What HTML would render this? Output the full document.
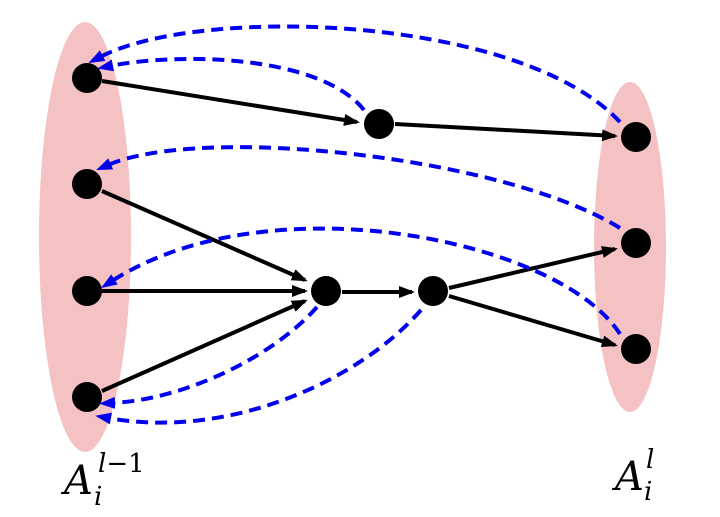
<!DOCTYPE html>
<html><head><style>body{margin:0;background:#fff}svg{display:block}</style></head><body>
<svg width="720" height="517" viewBox="0 0 720 517" xmlns="http://www.w3.org/2000/svg">
<defs>
<marker id="k" markerWidth="16" markerHeight="12" refX="13" refY="6" orient="auto" markerUnits="userSpaceOnUse"><path d="M0,0 L16,6 L0,12 z" fill="#000"/></marker>
<marker id="b" markerWidth="16" markerHeight="12" refX="3" refY="6" orient="auto" markerUnits="userSpaceOnUse"><path d="M0,0 L16,6 L0,12 z" fill="#0000ee"/></marker>
</defs>
<ellipse cx="85" cy="237" rx="46" ry="215" fill="#f4c2c2"/>
<ellipse cx="630" cy="247" rx="36" ry="165" fill="#f4c2c2"/>
<g stroke="#000" stroke-width="4" fill="none" marker-end="url(#k)">
<line x1="102" y1="81" x2="357" y2="122"/>
<line x1="395" y1="124" x2="615" y2="136"/>
<line x1="102" y1="191" x2="305" y2="280"/>
<line x1="102" y1="291" x2="305" y2="291"/>
<line x1="102" y1="391" x2="305" y2="301"/>
<line x1="342" y1="292" x2="412" y2="292"/>
<line x1="449" y1="288" x2="615" y2="249"/>
<line x1="449" y1="296" x2="615" y2="345"/>
</g>
<g stroke="#0000ee" stroke-width="4" fill="none" stroke-dasharray="12,7" marker-end="url(#b)">
<path d="M620,122 C520,15 200,5 100,57"/>
<path d="M364,110 C320,55 180,52 110,66"/>
<path d="M620,228 C500,155 200,125 108,165"/>
<path d="M620,334 C560,240 270,180 112,281"/>
<path d="M317,307 C270,360 180,400 112,403"/>
<path d="M421,310 C360,380 230,440 108,418"/>
</g>
<g fill="#000">
<circle cx="87" cy="78" r="15"/><circle cx="87" cy="184" r="15"/><circle cx="87" cy="291" r="15"/><circle cx="87" cy="397" r="15"/>
<circle cx="379" cy="124" r="15"/><circle cx="326" cy="291" r="15"/><circle cx="433" cy="291" r="15"/>
<circle cx="636" cy="137" r="15"/><circle cx="636" cy="243" r="15"/><circle cx="636" cy="349" r="15"/>
</g>
<g font-family="'DejaVu Serif', 'Liberation Serif', serif" font-style="italic" fill="#000">
<text x="64" y="494" font-size="40">A</text>
<text x="98" y="472" font-size="26">l<tspan font-style="normal">−1</tspan></text>
<text x="94" y="505" font-size="26">i</text>
<text x="615" y="490" font-size="40">A</text>
<text x="646" y="468" font-size="26">l</text>
<text x="644" y="500" font-size="26">i</text>
</g>
</svg>
</body></html>
